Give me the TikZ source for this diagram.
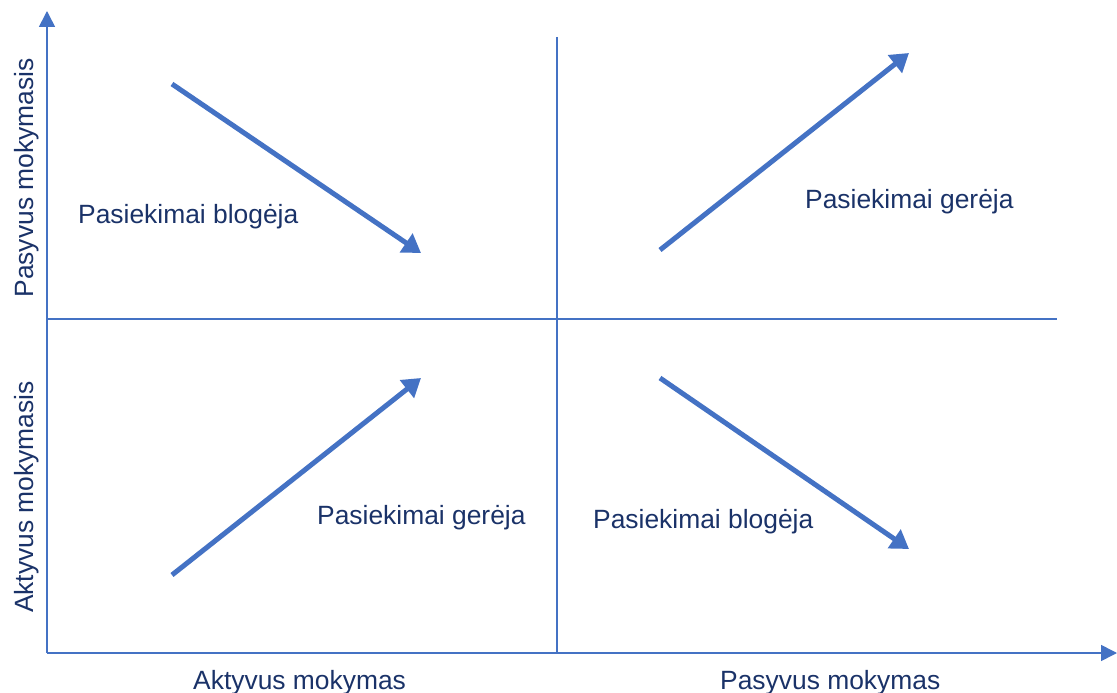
\documentclass[tikz,border=0pt]{standalone}
\usepackage{fontspec}
\setmainfont{Liberation Sans}
\usetikzlibrary{arrows.meta}
\definecolor{lineblue}{HTML}{4472C4}
\definecolor{textnavy}{HTML}{1A3268}
\begin{document}
\begin{tikzpicture}[x=1pt,y=-1pt,
  axis/.style={draw=lineblue,line width=1.6pt,-{Triangle[length=16pt,width=16pt]}},
  divider/.style={draw=lineblue,line width=1.4pt},
  trend/.style={draw=lineblue,line width=5pt,-{Triangle[length=18pt,width=22pt]}},
  lbl/.style={text=textnavy,font=\fontsize{26.4}{30}\selectfont,inner sep=0pt}]
\useasboundingbox (0,0) rectangle (1117,693);
% axes
\coordinate (o) at (47,653);
\coordinate (ytip) at (47,11);
\coordinate (xtip) at (1117,653);
\draw[axis] (o) -- (ytip);
\draw[axis] (o) -- (xtip);
% dividers
\coordinate (vtop) at (557,37);
\coordinate (vbot) at (557,653);
\coordinate (hleft) at (47,319);
\coordinate (hright) at (1057,319);
\draw[divider] (vtop) -- (vbot);
\draw[divider] (hleft) -- (hright);
% trend arrows
\coordinate (a1s) at (172,84);  \coordinate (a1e) at (421,253);
\coordinate (a2s) at (660,250); \coordinate (a2e) at (909,53);
\coordinate (a3s) at (172,575); \coordinate (a3e) at (421,378);
\coordinate (a4s) at (660,378); \coordinate (a4e) at (909,549);
\draw[trend] (a1s) -- (a1e);
\draw[trend] (a2s) -- (a2e);
\draw[trend] (a3s) -- (a3e);
\draw[trend] (a4s) -- (a4e);
% quadrant labels
\node[lbl,anchor=base west] (q1) at (78,223) {Pasiekimai blogėja};
\node[lbl,anchor=base west] (q2) at (805,208) {Pasiekimai gerėja};
\node[lbl,anchor=base west] (q3) at (317,524) {Pasiekimai gerėja};
\node[lbl,anchor=base west] (q4) at (593,528) {Pasiekimai blogėja};
% axis labels
\node[lbl,anchor=base west] (xl1) at (193,689) {Aktyvus mokymas};
\node[lbl,anchor=base west] (xl2) at (720,689) {Pasyvus mokymas};
\node[lbl,anchor=base,rotate=90] (yl1) at (33,178) {Pasyvus mokymasis};
\node[lbl,anchor=base,rotate=90] (yl2) at (33,497) {Aktyvus mokymasis};
\end{tikzpicture}
\end{document}
